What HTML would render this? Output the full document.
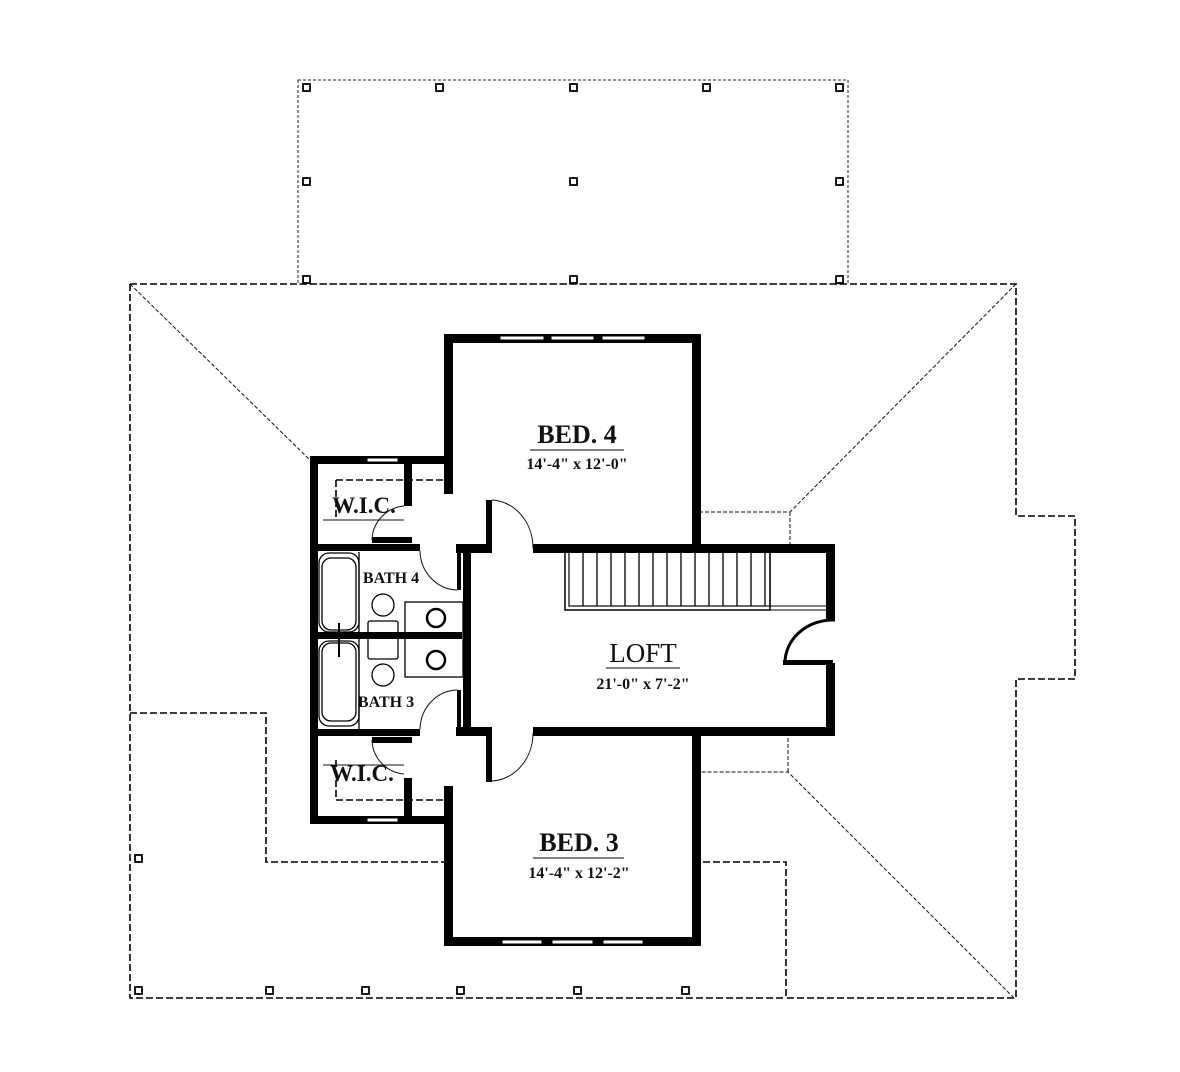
<!DOCTYPE html>
<html><head><meta charset="utf-8"><style>
html,body{margin:0;padding:0;background:#fff;}
svg{display:block;}
text{font-family:"Liberation Serif",serif;fill:#111;}
</style></head><body>
<svg width="1180" height="1072" viewBox="0 0 1180 1072" xmlns="http://www.w3.org/2000/svg">
<rect width="1180" height="1072" fill="#fff"/>
<g fill="none" stroke="#222" stroke-width="1" stroke-dasharray="3,2">
<rect x="298" y="80" width="550" height="204"/>
</g>
<g fill="#fff" stroke="#000" stroke-width="1.8">
<rect x="303" y="84" width="7" height="7"/><rect x="436" y="84" width="7" height="7"/><rect x="570" y="84" width="7" height="7"/><rect x="703" y="84" width="7" height="7"/><rect x="836" y="84" width="7" height="7"/>
<rect x="303" y="178" width="7" height="7"/><rect x="570" y="178" width="7" height="7"/><rect x="836" y="178" width="7" height="7"/>
<rect x="303" y="276" width="7" height="7"/><rect x="570" y="276" width="7" height="7"/><rect x="836" y="276" width="7" height="7"/>
<rect x="135" y="855" width="7" height="7"/>
<rect x="135" y="987" width="7" height="7"/><rect x="266" y="987" width="7" height="7"/><rect x="362" y="987" width="7" height="7"/><rect x="457" y="987" width="7" height="7"/><rect x="574" y="987" width="7" height="7"/><rect x="682" y="987" width="7" height="7"/>
</g>
<g fill="none" stroke="#000" stroke-width="1.6" stroke-dasharray="7,3">
<path d="M130,284 H1016 V516 H1075 V679 H1016 V998 H786 V862 H700"/>
<path d="M130,284 V998 H786"/>
<path d="M130,713 H266 V862 H444"/>
<path d="M336,480 H444"/>
<path d="M336,800 H444"/>
<path d="M336,480 V520 M336,760 V800"/>
</g>
<g fill="none" stroke="#111" stroke-width="1" stroke-dasharray="4,2">
<path d="M130,284 L312,462"/>
<path d="M1016,284 L790,512 H700 M790,512 V545"/>
<path d="M1014,998 L788,772 H700 M788,772 V735"/>
</g>
<g fill="#000">
<rect x="444" y="334" width="257" height="9"/>
<rect x="444" y="334" width="9" height="160"/>
<rect x="692" y="334" width="9" height="214"/>
<rect x="444" y="937" width="257" height="9"/>
<rect x="444" y="786" width="9" height="160"/>
<rect x="692" y="731" width="9" height="215"/>
<rect x="533" y="544" width="302" height="9"/>
<rect x="533" y="727" width="302" height="9"/>
<rect x="826" y="544" width="9" height="76"/>
<rect x="826" y="663" width="9" height="73"/>
<rect x="783" y="660" width="50" height="5"/>
<rect x="463" y="544" width="8" height="192"/>
<rect x="456" y="544" width="36" height="9"/>
<rect x="456" y="727" width="36" height="9"/>
<rect x="486" y="500" width="6" height="52"/>
<rect x="486" y="728" width="6" height="54"/>
<rect x="457" y="544" width="4" height="46"/>
<rect x="457" y="690" width="4" height="46"/>
<rect x="310" y="456" width="142" height="8"/>
<rect x="310" y="456" width="8" height="368"/>
<rect x="310" y="816" width="142" height="8"/>
<rect x="404" y="460" width="8" height="46"/>
<rect x="404" y="778" width="8" height="44"/>
<rect x="310" y="544" width="110" height="7"/>
<rect x="310" y="729" width="110" height="7"/>
<rect x="372" y="537" width="40" height="6"/>
<rect x="372" y="737" width="40" height="6"/>
<rect x="310" y="632" width="152" height="7"/>
</g>
<g fill="#fff" stroke="#000" stroke-width="1">
<rect x="500" y="336" width="44" height="4"/><rect x="551" y="336" width="43" height="4"/><rect x="602" y="336" width="43" height="4"/>
<rect x="502" y="940" width="40" height="4"/><rect x="552" y="940" width="41" height="4"/><rect x="603" y="940" width="40" height="4"/>
<rect x="367" y="458" width="31" height="4"/>
<rect x="367" y="818" width="31" height="4"/>
</g>
<g fill="none" stroke="#111" stroke-width="1">
<path d="M492,500 A43,48 0 0 1 533,548"/>
<path d="M492,781 A43,48 0 0 0 533,733"/>
<path d="M420,551 A38,40 0 0 0 457,590"/>
<path d="M420,729 A38,40 0 0 1 457,690"/>
<path d="M372,540 A35,35 0 0 1 404,506"/>
<path d="M372,740 A35,35 0 0 0 404,774"/>
<path d="M323,520 H404 M323,765 H404"/>
</g>
<path d="M835,620 A48,43 0 0 0 785,663" fill="none" stroke="#000" stroke-width="3"/>
<g fill="none" stroke="#000">
<rect x="565" y="552" width="205" height="58" stroke-width="1.5"/>
<rect x="569" y="552" width="201" height="54" stroke-width="1.2"/>
<path d="M770,606 H828 M770,610 H828" stroke-width="1"/>
<path d="M583,552V606M597,552V606M611,552V606M625,552V606M639,552V606M653,552V606M667,552V606M681,552V606M695,552V606M709,552V606M723,552V606M737,552V606M751,552V606M765,552V606" stroke-width="1.3"/>
</g>
<g fill="none" stroke="#000" stroke-width="1.3">
<rect x="405" y="602" width="58" height="75"/>
<circle cx="436" cy="618" r="9" stroke-width="2.5"/>
<circle cx="436" cy="660" r="9" stroke-width="2.5"/>
<rect x="319" y="553" width="40" height="79" rx="10"/>
<rect x="322" y="558" width="34" height="72" rx="9"/>
<rect x="319" y="641" width="40" height="85" rx="10"/>
<rect x="322" y="643" width="34" height="78" rx="9"/>
<path d="M359,552 V729"/>
<circle cx="383" cy="605" r="11"/>
<circle cx="383" cy="675" r="11"/>
<rect x="368" y="621" width="30" height="38" rx="2"/>
<path d="M339,623 V657" stroke-width="2"/>
</g>
<rect x="368" y="632" width="30" height="7" fill="#000"/>
<g text-anchor="middle">
<text x="577" y="443" font-size="26" font-weight="bold">BED. 4</text>
<line x1="530" y1="450" x2="624" y2="450" stroke="#000" stroke-width="1"/>
<text x="577" y="469" font-size="16" font-weight="bold">14'-4" x 12'-0"</text>
<text x="579" y="851" font-size="26" font-weight="bold">BED. 3</text>
<line x1="533" y1="858" x2="624" y2="858" stroke="#000" stroke-width="1"/>
<text x="579" y="878" font-size="16" font-weight="bold">14'-4" x 12'-2"</text>
<text x="643" y="662" font-size="27">LOFT</text>
<line x1="606" y1="668" x2="680" y2="668" stroke="#000" stroke-width="1"/>
<text x="643" y="689" font-size="16" font-weight="bold">21'-0" x 7'-2"</text>
<text x="364" y="513" font-size="23" font-weight="bold">W.I.C.</text>
<text x="362" y="781" font-size="23" font-weight="bold">W.I.C.</text>
<text x="391" y="583" font-size="16" font-weight="bold">BATH 4</text>
<text x="386" y="707" font-size="16" font-weight="bold">BATH 3</text>
</g>
</svg>
</body></html>
